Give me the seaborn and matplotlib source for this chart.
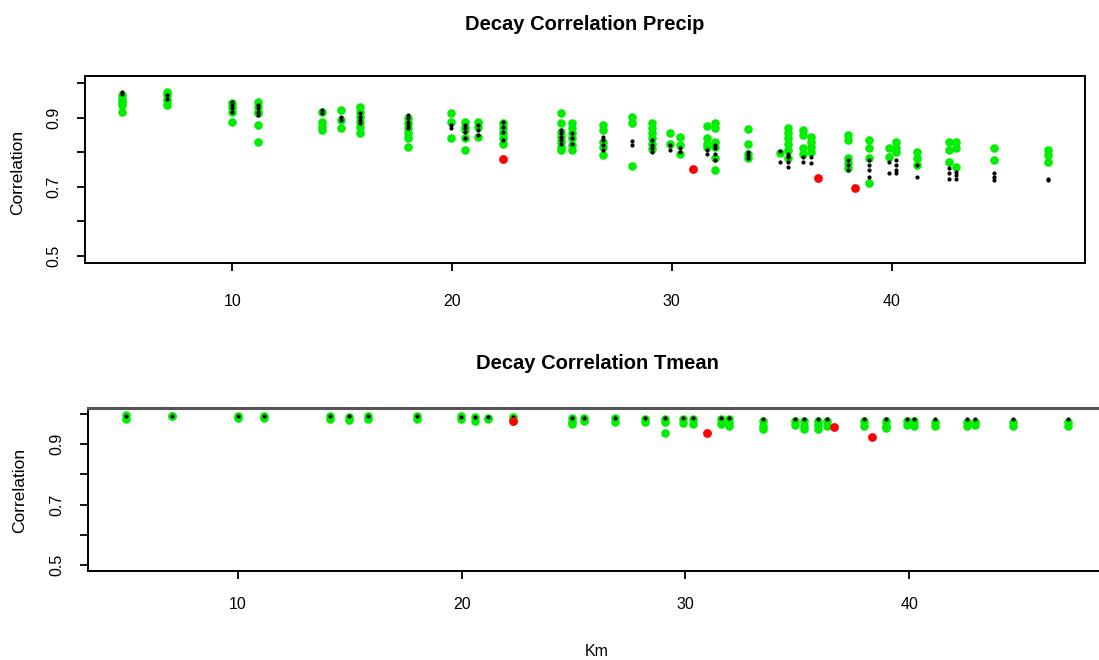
import matplotlib
matplotlib.use("Agg")
import matplotlib.pyplot as plt
import pandas as pd
import seaborn as sns

# ---------------- data ----------------
sites_km = [5.0, 7.05, 10.0, 11.15, 14.1, 14.95, 15.8, 18.0, 19.95, 20.6, 21.2, 22.3,
            24.95, 25.45, 26.85, 28.2, 29.1, 29.9, 30.35, 31.6, 31.95, 33.45, 34.9,
            35.3, 35.95, 36.35, 38.0, 38.95, 39.9, 40.2, 41.15, 42.6, 42.95, 44.65, 47.1]

precip_green = [
    [0.965, 0.955, 0.946, 0.936, 0.917],
    [0.975, 0.965, 0.951, 0.936],
    [0.941, 0.931, 0.917, 0.888],
    [0.946, 0.931, 0.917, 0.912, 0.878, 0.830],
    [0.917, 0.888, 0.873, 0.864],
    [0.922, 0.893, 0.869],
    [0.931, 0.917, 0.902, 0.888, 0.873, 0.854],
    [0.900, 0.885, 0.870, 0.855, 0.840, 0.815],
    [0.912, 0.888, 0.840],
    [0.888, 0.873, 0.864, 0.840, 0.806],
    [0.888, 0.873, 0.845],
    [0.883, 0.869, 0.854, 0.840, 0.825],
    [0.912, 0.883, 0.859, 0.845, 0.830, 0.816, 0.806],
    [0.883, 0.869, 0.854, 0.840, 0.821, 0.806],
    [0.878, 0.864, 0.830, 0.816, 0.792],
    [0.903, 0.885, 0.761],
    [0.883, 0.869, 0.854, 0.840, 0.825, 0.810],
    [0.854, 0.825],
    [0.845, 0.821, 0.796],
    [0.875, 0.840, 0.825, 0.816],
    [0.883, 0.869, 0.830, 0.816, 0.782, 0.750],
    [0.866, 0.825, 0.796, 0.782],
    [0.799],
    [0.869, 0.854, 0.840, 0.825, 0.806, 0.782],
    [0.864, 0.849, 0.811, 0.796],
    [0.845, 0.830, 0.816, 0.801],
    [0.849, 0.835, 0.782, 0.768, 0.753],
    [0.835, 0.811, 0.782, 0.710],
    [0.811, 0.787],
    [0.830, 0.811, 0.801],
    [0.801, 0.782, 0.763],
    [0.830, 0.806, 0.772],
    [0.830, 0.811, 0.756],
    [0.811, 0.777],
    [0.806, 0.792, 0.772],
]

precip_black = [
    [0.975, 0.968],
    [0.965, 0.955],
    [0.946, 0.936, 0.927, 0.917],
    [0.936, 0.927, 0.917, 0.907],
    [0.922, 0.912],
    [0.902, 0.893],
    [0.912, 0.902, 0.893, 0.883],
    [0.907, 0.898, 0.888, 0.878, 0.869],
    [0.878, 0.869],
    [0.878, 0.869, 0.859, 0.840],
    [0.878, 0.864, 0.849],
    [0.888, 0.873, 0.859, 0.835],
    [0.864, 0.854, 0.845, 0.835, 0.825],
    [0.854, 0.840, 0.825],
    [0.845, 0.835, 0.821, 0.806],
    [0.832, 0.822],
    [0.835, 0.821, 0.811, 0.801],
    [0.821, 0.806],
    [0.811, 0.801],
    [0.806, 0.796],
    [0.821, 0.811, 0.796, 0.777],
    [0.801, 0.792, 0.782],
    [0.804, 0.772],
    [0.796, 0.787, 0.772, 0.756],
    [0.787, 0.772],
    [0.787, 0.768],
    [0.777, 0.763, 0.748],
    [0.777, 0.763, 0.748, 0.729],
    [0.772, 0.739],
    [0.777, 0.763, 0.748, 0.739],
    [0.763, 0.729],
    [0.753, 0.739, 0.724],
    [0.743, 0.734, 0.724],
    [0.739, 0.729, 0.719],
    [0.724, 0.719],
]

precip_red_km = [22.3, 30.95, 36.65, 38.35]
precip_red_r = [0.779, 0.751, 0.726, 0.698]

tmean_green = [
    [0.997, 0.985], [0.995, 0.993], [0.995, 0.988], [0.995, 0.988],
    [0.992, 0.985], [0.990, 0.980], [0.992, 0.985], [0.992, 0.982],
    [0.992, 0.982], [0.990, 0.978], [0.988, 0.982], [0.990, 0.978],
    [0.987, 0.975, 0.968], [0.987, 0.977], [0.987, 0.972], [0.982, 0.972],
    [0.985, 0.972, 0.936], [0.982, 0.970], [0.982, 0.967], [0.982, 0.967],
    [0.982, 0.970, 0.960], [0.977, 0.962, 0.950], [0.977, 0.965],
    [0.977, 0.962, 0.952], [0.977, 0.965, 0.952], [0.977, 0.962],
    [0.977, 0.962], [0.977, 0.962, 0.955], [0.977, 0.965], [0.977, 0.962],
    [0.975, 0.962], [0.975, 0.962], [0.975, 0.965], [0.972, 0.962],
    [0.975, 0.962],
]

tmean_black = [
    [0.995], [0.995], [0.995], [0.995], [0.994], [0.993], [0.993], [0.992],
    [0.990], [0.990], [0.990], [0.990], [0.988], [0.988], [0.988], [0.987],
    [0.987], [0.987], [0.987], [0.986], [0.986], [0.985], [0.985], [0.985],
    [0.985], [0.985], [0.985], [0.985], [0.984], [0.984], [0.984], [0.984],
    [0.984], [0.984], [0.984],
]

tmean_red_km = [22.3, 30.95, 36.65, 38.35]
tmean_red_r = [0.977, 0.938, 0.956, 0.925]

y_ticks = [0.5, 0.6, 0.7, 0.8, 0.9, 1.0]
y_ticklabels = ["0.5", "", "0.7", "", "0.9", ""]
x_ticks = [10, 20, 30, 40]
x_ticklabels = ["10", "20", "30", "40"]


def to_long(sites, groups):
    km = [k for k, g in zip(sites, groups) for _ in g]
    r = [v for g in groups for v in g]
    return pd.DataFrame({"km": km, "r": r})


# ---------------- style ----------------
sns.set_theme(style="white")
plt.rcParams["font.family"] = ["Liberation Sans", "DejaVu Sans"]
plt.rcParams["text.color"] = "black"
plt.rcParams["axes.labelcolor"] = "black"
plt.rcParams["xtick.color"] = "black"
plt.rcParams["ytick.color"] = "black"

W, H = 1099, 660
fig = plt.figure(figsize=(W / 100, H / 100), dpi=100)
fig.patch.set_facecolor("white")

GREEN = "#00ee00"


def panel(rect, green, black, red_km, red_r, xpad):
    ax = fig.add_axes(rect)
    sns.scatterplot(data=to_long(sites_km, green), x="km", y="r", color=GREEN,
                    s=38, linewidth=0, ax=ax, zorder=2, legend=False)
    sns.scatterplot(data=to_long(sites_km, black), x="km", y="r", color="black",
                    s=9, linewidth=0, ax=ax, zorder=3, legend=False)
    sns.scatterplot(data=pd.DataFrame({"km": red_km, "r": red_r}), x="km", y="r",
                    color="#ff0000", s=40, linewidth=0, ax=ax, zorder=4, legend=False)
    ax.set_xlim(3.3, 48.8)
    ax.set_ylim(0.48, 1.02)
    ax.set_xticks(x_ticks)
    ax.set_xticklabels(x_ticklabels)
    ax.set_yticks(y_ticks)
    ax.set_yticklabels(y_ticklabels)
    ax.set_xlabel("")
    ax.set_ylabel("")
    ax.tick_params(axis="both", direction="out", length=6, width=1.3, color="black",
                   labelsize=11.5, labelcolor="black", bottom=True, left=True)
    ax.tick_params(axis="x", pad=16)
    ax.tick_params(axis="x", pad=xpad)
    ax.tick_params(axis="y", pad=11)
    for lbl in ax.get_yticklabels():
        lbl.set_rotation(90)
        lbl.set_va("center")
        lbl.set_ha("right")
    for sp in ax.spines.values():
        sp.set_visible(True)
        sp.set_color("black")
        sp.set_linewidth(1.4)
    ax.grid(False)
    ax.set_facecolor("white")
    return ax


ax1 = panel([85 / W, 1 - 263 / H, 1000 / W, 187 / H],
            precip_green, precip_black, precip_red_km, precip_red_r, xpad=16)
ax2 = panel([88 / W, 1 - 571 / H, 1018 / W, 163 / H],
            tmean_green, tmean_black, tmean_red_km, tmean_red_r, xpad=13)
ax2.spines["top"].set_color("#555555")
ax2.spines["top"].set_linewidth(2.2)

fig.text(585 / W, 1 - 25 / H, "Decay Correlation Precip", ha="center", va="center",
         fontsize=14.5, fontweight="bold", color="black")
fig.text(597 / W, 1 - 363 / H, "Decay Correlation Tmean", ha="center", va="center",
         fontsize=14.5, fontweight="bold", color="black")
fig.text(18 / W, 1 - 172 / H, "Correlation", rotation=90, ha="center", va="center",
         fontsize=12.5, color="black")
fig.text(20 / W, 1 - 490 / H, "Correlation", rotation=90, ha="center", va="center",
         fontsize=12.5, color="black")
fig.text(597 / W, 1 - 651 / H, "Km", ha="center", va="center", fontsize=11.5,
         color="black")

fig.savefig("out.png", dpi=100, facecolor="white")
